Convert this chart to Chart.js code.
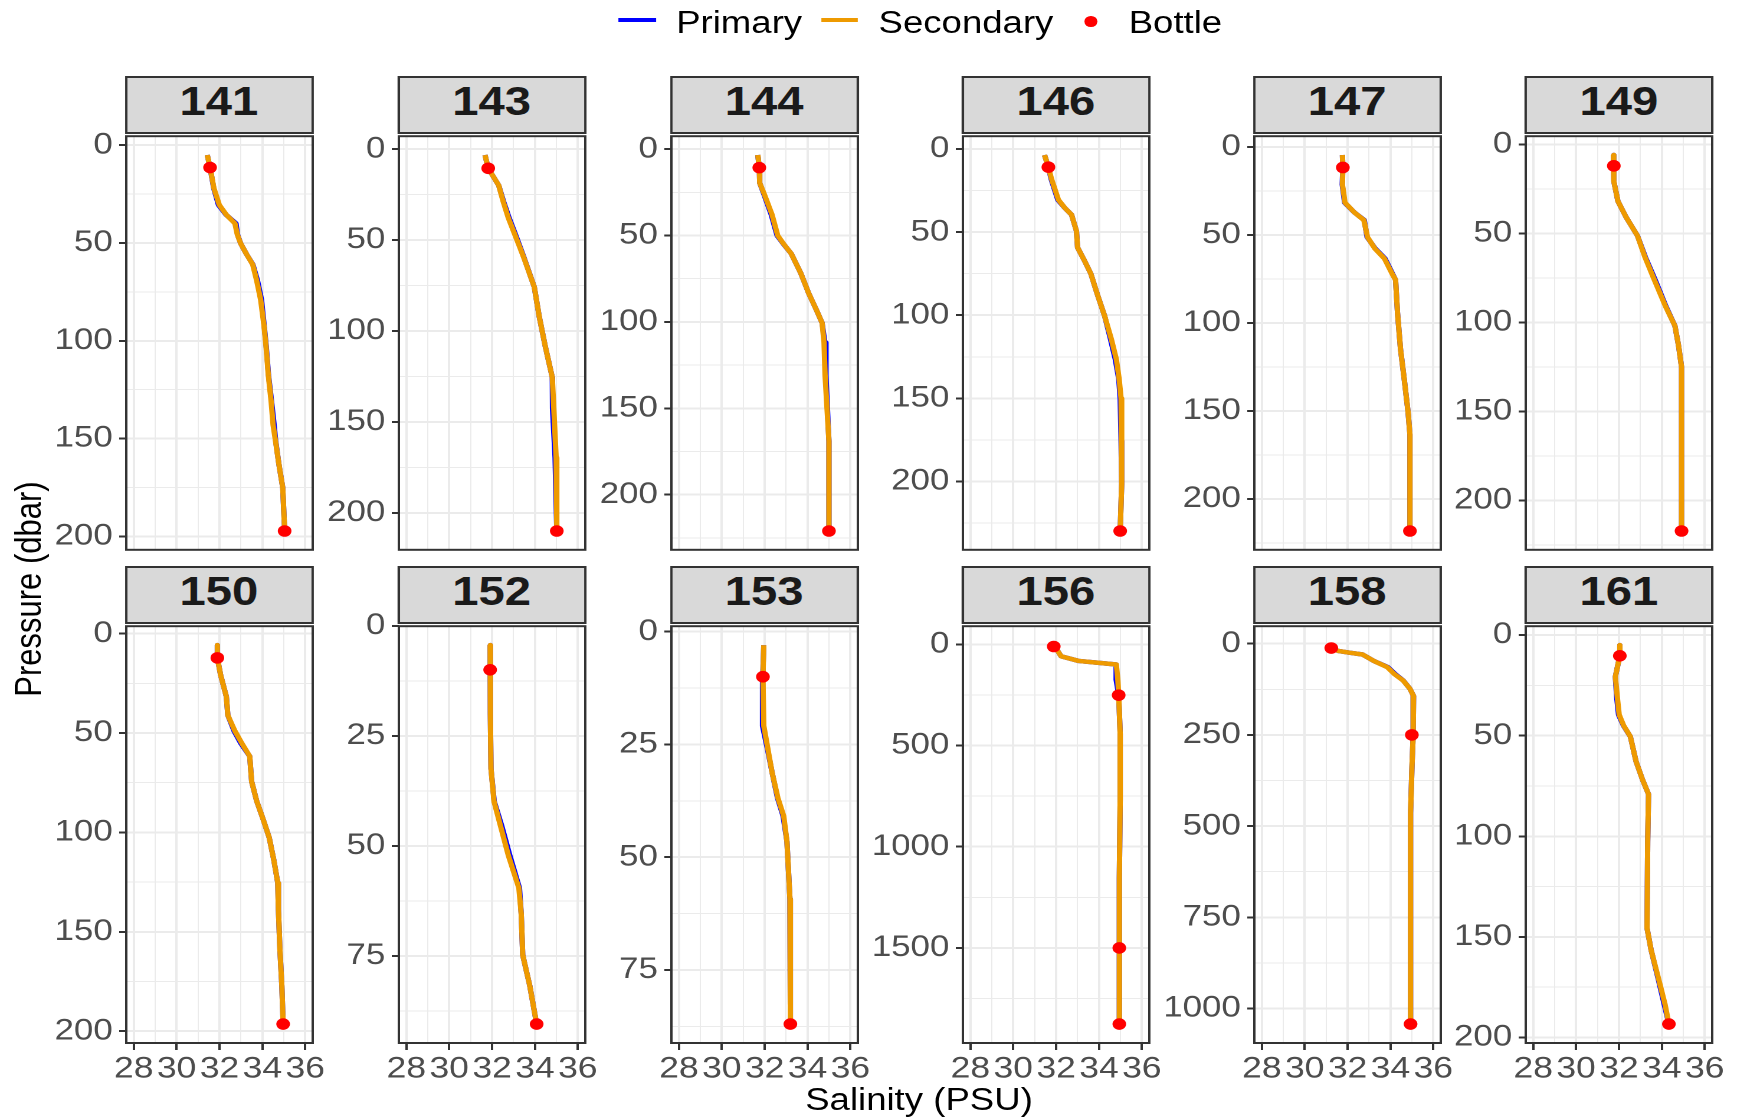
<!DOCTYPE html>
<html>
<head>
<meta charset="utf-8">
<script src="https://cdn.jsdelivr.net/npm/chart.js@4.4.1/dist/chart.umd.min.js"></script>
<style>
  html, body { margin: 0; padding: 0; background: #fff; }
  body { width: 1738px; height: 1120px; overflow: hidden; position: relative; }
  #figure {
    position: absolute; left: 0; top: 0; width: 1473px; height: 1120px;
    transform: scaleX(1.18); transform-origin: 0 0;
    font-family: 'Liberation Sans', Arial, sans-serif;
  }
  .strip {
    position: absolute; box-sizing: border-box; height: 58px;
    background: #d9d9d9; border: 2px solid #333;
    text-align: center; font-weight: bold; font-size: 40px; line-height: 46.3px; color: #1a1a1a;
  }
  .box { position: absolute; }
  .key-line { position: absolute; height: 4px; top: 18px; }
  .key-text { position: absolute; top: 6.5px; font-size: 31px; line-height: 31px; color: #000; white-space: nowrap; }
  .key-dot { position: absolute; width: 10.5px; height: 10.5px; border-radius: 50%; background: #ff0000; top: 16px; }
  .title { position: absolute; font-size: 31px; line-height: 31px; color: #000; white-space: nowrap; text-align: center; }
</style>
</head>
<body>
<div id="figure">
  <div class="key-line" style="left:524.3px;width:31.7px;background:#0000ff"></div>
  <div class="key-text" style="left:573px">Primary</div>
  <div class="key-line" style="left:696.4px;width:30.6px;background:#ee9a00"></div>
  <div class="key-text" style="left:744.5px">Secondary</div>
  <div class="key-dot" style="left:919px"></div>
  <div class="key-text" style="left:956.5px">Bottle</div>
  <div class="title" style="left:578.8px;width:400px;top:1084px">Salinity (PSU)</div>
  <div class="title" style="left:23.5px;top:588.5px;transform:translate(-50%,-50%) rotate(-90deg)">Pressure (dbar)</div>
</div>
<script>
// salinity axis
const xTicks = [28, 30, 32, 34, 36];
const xMinor = [29, 31, 33, 35];

// station 141
const p141 = [5, 11.4, 22, 30.5, 35.6, 40, 45.6, 50.3, 55.7, 61, 69, 79, 92.6, 102.7, 117.8, 131, 143, 151, 163, 175, 197];
const pri141 = [31.43, 31.56, 31.73, 31.95, 32.31, 32.77, 32.84, 32.99, 33.26, 33.56, 33.77, 33.96, 34.09, 34.18, 34.29, 34.43, 34.55, 34.62, 34.77, 34.95, 35.04];
const sec141 = [31.43, 31.56, 31.74, 31.99, 32.32, 32.72, 32.83, 32.99, 33.26, 33.55, 33.73, 33.92, 34.08, 34.17, 34.28, 34.41, 34.5, 34.61, 34.77, 34.95, 35.04];
const bp141 = [11.4, 197.3];
const bs141 = [31.56, 35.04];
const yt141 = [0, 50, 100, 150, 200];

// station 143
const p143 = [3.2, 10.5, 19.9, 28.9, 37.9, 48.7, 59.6, 75.8, 92, 108.3, 125.5, 142.6, 169.7, 210];
const pri143 = [31.67, 31.82, 32.31, 32.54, 32.8, 33.15, 33.49, 33.97, 34.2, 34.48, 34.81, 34.82, 34.94, 35.02];
const sec143 = [31.67, 31.82, 32.31, 32.52, 32.76, 33.12, 33.48, 33.97, 34.2, 34.48, 34.81, 34.88, 34.99, 35.02];
const bp143 = [10.5, 210];
const bs143 = [31.82, 35.02];
const yt143 = [0, 50, 100, 150, 200];

// station 144
const p144 = [3.4, 10.7, 19.6, 26.3, 37.7, 50, 54.8, 60.5, 71.9, 83.3, 92.9, 100.5, 111.9, 130.9, 150, 169, 221];
const pri144 = [31.68, 31.75, 31.77, 31.97, 32.3, 32.58, 32.87, 33.24, 33.69, 34.05, 34.41, 34.68, 34.81, 34.86, 34.93, 35.0, 35.0];
const sec144 = [31.68, 31.75, 31.77, 31.99, 32.34, 32.61, 32.88, 33.24, 33.69, 34.05, 34.41, 34.68, 34.77, 34.82, 34.91, 35.0, 35.0];
const bp144 = [10.7, 221];
const bs144 = [31.75, 35.0];
const yt144 = [0, 50, 100, 150, 200];

// station 146
const p146 = [3.6, 10.9, 17.8, 30.6, 35.5, 39.5, 49.4, 59.2, 67.1, 75, 86.9, 100.7, 114.5, 126.4, 138.2, 150, 175.7, 201.4, 229.8];
const pri146 = [31.46, 31.64, 31.76, 32.08, 32.41, 32.72, 32.95, 33.0, 33.32, 33.62, 33.91, 34.27, 34.54, 34.76, 34.92, 34.99, 35.03, 35.06, 34.99];
const sec146 = [31.46, 31.64, 31.78, 32.11, 32.41, 32.72, 32.95, 33.0, 33.32, 33.62, 33.91, 34.27, 34.58, 34.81, 34.94, 35.03, 35.06, 35.06, 34.99];
const bp146 = [10.9, 229.8];
const bs146 = [31.64, 34.99];
const yt146 = [0, 50, 100, 150, 200];

// station 147
const p147 = [4.5, 11.6, 21.3, 31.6, 37.2, 41.5, 51.2, 57.8, 63.4, 71.8, 75.5, 94.2, 114.8, 131.6, 150.3, 163.4, 218.3];
const pri147 = [31.76, 31.78, 31.75, 31.86, 32.32, 32.78, 32.91, 33.3, 33.75, 34.09, 34.24, 34.33, 34.47, 34.64, 34.82, 34.91, 34.91];
const sec147 = [31.76, 31.78, 31.76, 31.88, 32.32, 32.76, 32.93, 33.28, 33.72, 34.07, 34.24, 34.33, 34.47, 34.64, 34.82, 34.91, 34.91];
const bp147 = [11.6, 218.3];
const bs147 = [31.78, 34.91];
const yt147 = [0, 50, 100, 150, 200];

// station 149
const p149 = [5.9, 12, 20.7, 31.8, 41, 51.2, 63.2, 76.1, 90.9, 101.9, 113, 125, 217.2];
const pri149 = [31.74, 31.76, 31.76, 31.95, 32.34, 32.86, 33.23, 33.69, 34.19, 34.61, 34.78, 34.92, 34.92];
const sec149 = [31.74, 31.76, 31.76, 31.95, 32.34, 32.86, 33.21, 33.65, 34.17, 34.61, 34.78, 34.92, 34.92];
const bp149 = [12, 217.2];
const bs149 = [31.76, 34.92];
const yt149 = [0, 50, 100, 150, 200];

// station 150
const p150 = [5.8, 12.2, 20.7, 31.7, 41.1, 49, 55.3, 61.7, 74.4, 84.4, 93.5, 102.6, 113.6, 125.4, 139, 159, 177.3, 196.4];
const pri150 = [31.9, 31.9, 32.05, 32.32, 32.39, 32.68, 33.0, 33.41, 33.5, 33.74, 34.04, 34.32, 34.53, 34.72, 34.75, 34.82, 34.91, 34.97];
const sec150 = [31.9, 31.9, 32.05, 32.32, 32.39, 32.72, 33.05, 33.41, 33.5, 33.74, 34.04, 34.32, 34.53, 34.72, 34.75, 34.82, 34.91, 34.97];
const bp150 = [12.2, 196.4];
const bs150 = [31.9, 34.97];
const yt150 = [0, 50, 100, 150, 200];

// station 152
const p152 = [4.4, 10, 20.1, 32.5, 39.9, 45.6, 52.2, 59.6, 65.4, 74.8, 81.8, 90.5];
const pri152 = [31.91, 31.91, 31.93, 31.95, 32.1, 32.46, 32.83, 33.28, 33.36, 33.43, 33.76, 34.08];
const sec152 = [31.91, 31.91, 31.93, 31.95, 32.09, 32.4, 32.76, 33.25, 33.36, 33.43, 33.76, 34.08];
const bp152 = [10, 90.5];
const bs152 = [31.91, 34.08];
const yt152 = [0, 25, 50, 75];

// station 153
const p153 = [3, 10, 20.9, 26.5, 31.3, 36.9, 40.9, 46.5, 52.9, 59.3, 70.6, 87];
const pri153 = [31.96, 31.91, 31.9, 32.15, 32.35, 32.6, 32.86, 33.04, 33.11, 33.18, 33.2, 33.2];
const sec153 = [31.96, 31.92, 31.96, 32.17, 32.35, 32.62, 32.89, 33.04, 33.11, 33.18, 33.2, 33.2];
const bp153 = [10, 87];
const bs153 = [31.92, 33.2];
const yt153 = [0, 25, 50, 75];

// station 156
const p156 = [4, 10.7, 28.5, 58.8, 82, 91, 99.8, 174.6, 251, 442, 762, 1154, 1500, 1876];
const pri156 = [31.88, 31.89, 32.05, 32.23, 33.05, 33.95, 34.8, 34.8, 34.92, 34.99, 34.99, 34.95, 34.95, 34.95];
const sec156 = [31.88, 31.89, 32.05, 32.23, 33.05, 33.95, 34.81, 34.88, 34.92, 34.99, 34.99, 34.95, 34.95, 34.95];
const bp156 = [10.7, 251, 1500, 1876];
const bs156 = [31.89, 34.92, 34.95, 34.95];
const yt156 = [0, 500, 1000, 1500];

// station 158
const p158 = [4, 11.9, 19.8, 24.7, 29.6, 47.4, 64.2, 84, 100.8, 123.5, 143.3, 250, 345.8, 464.4, 741, 1042.5];
const pri158 = [31.24, 31.24, 31.56, 32.09, 32.7, 33.23, 33.88, 34.24, 34.6, 34.91, 35.08, 35.06, 35.0, 34.94, 34.94, 34.94];
const sec158 = [31.24, 31.24, 31.56, 32.09, 32.7, 33.23, 33.85, 34.2, 34.59, 34.91, 35.08, 35.06, 35.0, 34.94, 34.94, 34.94];
const bp158 = [11.9, 250, 1042.5];
const bs158 = [31.24, 35.0, 34.94];
const yt158 = [0, 250, 500, 750, 1000];

// station 161
const p161 = [5, 10.3, 20.7, 30.6, 39.6, 45, 50.4, 62.9, 71.9, 79.1, 102.5, 145.7, 156.5, 170.9, 183.5, 193.3];
const pri161 = [32.04, 32.04, 31.83, 31.89, 31.98, 32.21, 32.53, 32.8, 33.1, 33.38, 33.34, 33.31, 33.5, 33.83, 34.11, 34.33];
const sec161 = [32.04, 32.04, 31.83, 31.92, 32.01, 32.22, 32.53, 32.8, 33.1, 33.38, 33.34, 33.31, 33.5, 33.85, 34.15, 34.33];
const bp161 = [10.3, 193.3];
const bs161 = [32.04, 34.33];
const yt161 = [0, 50, 100, 150, 200];

const panels = [
  { name: '141', p: p141, pri: pri141, sec: sec141, bp: bp141, bs: bs141, yt: yt141 },
  { name: '143', p: p143, pri: pri143, sec: sec143, bp: bp143, bs: bs143, yt: yt143 },
  { name: '144', p: p144, pri: pri144, sec: sec144, bp: bp144, bs: bs144, yt: yt144 },
  { name: '146', p: p146, pri: pri146, sec: sec146, bp: bp146, bs: bs146, yt: yt146 },
  { name: '147', p: p147, pri: pri147, sec: sec147, bp: bp147, bs: bs147, yt: yt147 },
  { name: '149', p: p149, pri: pri149, sec: sec149, bp: bp149, bs: bs149, yt: yt149 },
  { name: '150', p: p150, pri: pri150, sec: sec150, bp: bp150, bs: bs150, yt: yt150 },
  { name: '152', p: p152, pri: pri152, sec: sec152, bp: bp152, bs: bs152, yt: yt152 },
  { name: '153', p: p153, pri: pri153, sec: sec153, bp: bp153, bs: bs153, yt: yt153 },
  { name: '156', p: p156, pri: pri156, sec: sec156, bp: bp156, bs: bs156, yt: yt156 },
  { name: '158', p: p158, pri: pri158, sec: sec158, bp: bp158, bs: bs158, yt: yt158 },
  { name: '161', p: p161, pri: pri161, sec: sec161, bp: bp161, bs: bs161, yt: yt161 }
];

// layout (figure is drawn narrow and stretched by S, like the original)
const S = 1.18;
const colLeft = [125.7, 398.4, 670.9, 962.6, 1254.0, 1525.7].map(v => v / S);
const PW = 158, PH = 420;
const AX = 90, PR = 18, PT = 20, PB = 20, XH = 50;
const panelTop = [133, 623];
const stripTop = [76, 566];
const X_MIN = 27.65, X_MAX = 36.35;
const FONT = "'Liberation Sans', Arial, sans-serif";

const panelBorder = {
  id: 'panelBorder',
  afterDraw(chart) {
    const { ctx, chartArea: a } = chart;
    ctx.save();
    ctx.strokeStyle = '#333333';
    ctx.lineWidth = 2;
    ctx.strokeRect(a.left, a.top, a.right - a.left, a.bottom - a.top);
    ctx.restore();
  }
};

const fig = document.getElementById('figure');

panels.forEach((d, i) => {
  const row = Math.floor(i / 6), col = i % 6;
  const left = colLeft[col];

  const strip = document.createElement('div');
  strip.className = 'strip';
  strip.style.left = (left - 1) + 'px';
  strip.style.top = stripTop[row] + 'px';
  strip.style.width = (PW + 2) + 'px';
  strip.textContent = d.name;
  fig.appendChild(strip);

  const box = document.createElement('div');
  box.className = 'box';
  box.style.left = (left - AX) + 'px';
  box.style.top = (panelTop[row] - PT) + 'px';
  box.style.width = (AX + PW + PR) + 'px';
  box.style.height = (PT + PH + (row ? XH : PB)) + 'px';
  const cv = document.createElement('canvas');
  box.appendChild(cv);
  fig.appendChild(box);

  // y range like ggplot: data range plus 5% each side
  const allP = d.p.concat(d.bp);
  const lo = Math.min(...allP), hi = Math.max(...allP);
  const yMin = lo - (hi - lo) * 0.05, yMax = hi + (hi - lo) * 0.05;
  const step = d.yt[1] - d.yt[0];
  const yMinor = [];
  for (let k = Math.floor(yMin / step); k * step <= yMax; k++) {
    const v = k * step + step / 2;
    if (v >= yMin && v <= yMax) yMinor.push(v);
  }
  const yAll = d.yt.concat(yMinor).sort((a, b) => a - b);
  const xAll = xTicks.concat(xMinor).sort((a, b) => a - b);

  const secPts = d.p.map((p, j) => ({ x: d.sec[j], y: p }));
  const priPts = d.p.map((p, j) => ({ x: d.pri[j], y: p }));
  const botPts = d.bp.map((p, j) => ({ x: d.bs[j], y: p }));

  new Chart(cv, {
    type: 'scatter',
    data: {
      datasets: [
        { label: 'Bottle', data: botPts, showLine: false, pointRadius: 5.8, pointBackgroundColor: '#ff0000', pointBorderWidth: 0 },
        { label: 'Secondary', data: secPts, showLine: true, borderColor: '#ee9a00', borderWidth: 4.5, pointRadius: 0, tension: 0, borderJoinStyle: 'round' },
        { label: 'Primary', data: priPts, showLine: true, borderColor: '#0000ff', borderWidth: 4.5, pointRadius: 0, tension: 0, borderJoinStyle: 'round' }
      ]
    },
    options: {
      responsive: true,
      maintainAspectRatio: false,
      animation: false,
      devicePixelRatio: 2,
      events: [],
      layout: { padding: { top: PT, right: PR, bottom: row ? 0 : PB, left: 0 } },
      plugins: { legend: { display: false }, tooltip: { enabled: false } },
      scales: {
        x: {
          type: 'linear', min: X_MIN, max: X_MAX, bounds: 'data',
          afterBuildTicks: s => { s.ticks = xAll.map(v => ({ value: v })); },
          afterFit: s => { s.height = row ? XH : 0; },
          ticks: {
            display: row === 1, autoSkip: false, minRotation: 0, maxRotation: 0, padding: 1,
            color: '#4d4d4d', font: { family: FONT, size: 30 },
            callback: v => xTicks.includes(v) ? String(v) : ''
          },
          grid: {
            color: '#ebebeb',
            lineWidth: c => xTicks.includes(c.tick.value) ? 2 : 1,
            drawTicks: row === 1, tickLength: 7, tickWidth: 2,
            tickColor: c => xTicks.includes(c.tick.value) ? '#333333' : 'rgba(0,0,0,0)'
          },
          border: { display: false }
        },
        y: {
          type: 'linear', reverse: true, min: yMin, max: yMax, bounds: 'data',
          afterBuildTicks: s => { s.ticks = yAll.map(v => ({ value: v })); },
          afterFit: s => { s.width = AX; },
          ticks: {
            autoSkip: false, padding: 5.5,
            color: '#4d4d4d', font: { family: FONT, size: 29.5 },
            callback: v => d.yt.includes(v) ? String(v) : ''
          },
          grid: {
            color: '#ebebeb',
            lineWidth: c => d.yt.includes(c.tick.value) ? 2 : 1,
            drawTicks: true, tickLength: 6, tickWidth: 2,
            tickColor: c => d.yt.includes(c.tick.value) ? '#333333' : 'rgba(0,0,0,0)'
          },
          border: { display: false }
        }
      }
    },
    plugins: [panelBorder]
  });
});
</script>
</body>
</html>
